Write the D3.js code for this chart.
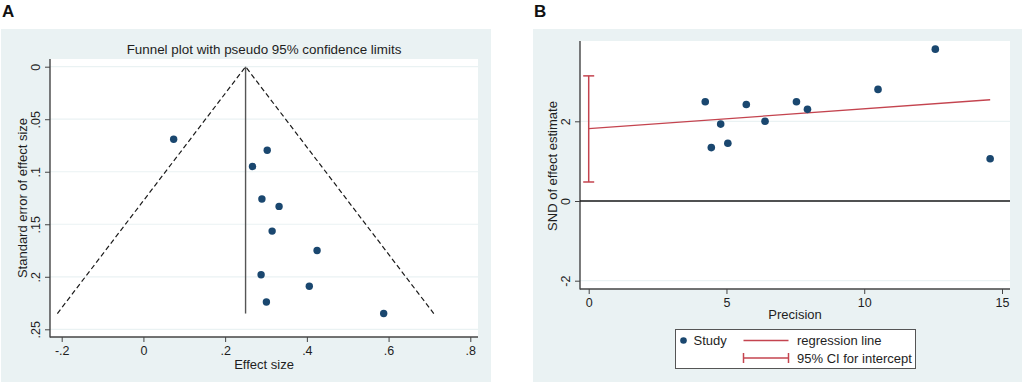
<!DOCTYPE html>
<html>
<head>
<meta charset="utf-8">
<script src="https://cdn.jsdelivr.net/npm/d3@7"></script>
<style>
  body { margin: 0; background: #fff; }
  svg { display: block; font-family: "Liberation Sans", Arial, sans-serif; }
</style>
</head>
<body>
<div id="chart"></div>
<script>
// ---- panel A : funnel plot ----
const effectSize = [0.074, 0.303, 0.267, 0.290, 0.332, 0.315, 0.425, 0.288, 0.406, 0.301, 0.588]
const seEffect   = [0.069, 0.0795, 0.095, 0.126, 0.133, 0.1565, 0.175, 0.198, 0.209, 0.224, 0.235]
const pooledEffect = 0.25
const maxSE = 0.235
const funnelXTicks = [-0.2, 0, 0.2, 0.4, 0.6, 0.8]
const funnelYTicks = [0, 0.05, 0.1, 0.15, 0.2, 0.25]

// ---- panel B : Egger regression ----
const precision = [4.23, 4.45, 4.79, 5.05, 5.72, 6.40, 7.54, 7.94, 10.50, 12.58, 14.57]
const sndEffect = [2.49, 1.34, 1.93, 1.45, 2.42, 2.00, 2.49, 2.30, 2.80, 3.81, 1.06]
const regIntercept = 1.815
const regSlope = 0.0498
const interceptCI = [0.477, 3.14]
const eggerXTicks = [0, 5, 10, 15]
const eggerYTicks = [-2, 0, 2]

const W = 1024, H = 384
const bgCol = '#eaf2f3'
const navy = '#1a476f'
const red = '#c4444f'
const axisCol = '#444'
const txtCol = '#1e1e1e'
const tickFont = 12.5
const titleFont = 13

// stata style labels: ".05", "-.2"
const stataFmt = v => String(+v.toFixed(4)).replace(/^(-?)0\./, '$1.')

const svg = d3.select('#chart').append('svg')
  .attr('width', W).attr('height', H)

function panelLetter(x, letter){
  svg.append('text')
    .attr('x', x).attr('y', 17)
    .attr('font-size', 17).attr('font-weight', 'bold')
    .attr('fill', '#111')
    .text(letter)
}

// draws background, plot region, gridlines, axes; returns group
function drawFrame(o){
  const g = svg.append('g')
  g.append('rect').attr('x', o.bg[0]).attr('y', o.bg[1]).attr('width', o.bg[2]).attr('height', o.bg[3]).attr('fill', bgCol)
  g.append('rect').attr('x', o.plot[0]).attr('y', o.plot[1]).attr('width', o.plot[2]).attr('height', o.plot[3]).attr('fill', '#fff')

  const left = o.plot[0], top = o.plot[1], right = o.plot[0] + o.plot[2], bottom = o.plot[1] + o.plot[3]

  // gridlines
  g.append('g').selectAll('line')
    .data(o.yTicks)
    .enter()
    .append('line')
    .attr('x1', left).attr('x2', right)
    .attr('y1', d => o.y(d)).attr('y2', d => o.y(d))
    .attr('stroke', bgCol).attr('stroke-width', 1.2)

  // y axis
  const yAxis = g.append('g')
    .attr('transform', `translate(${left},0)`)
    .call(d3.axisLeft(o.y).tickValues(o.yTicks).tickFormat(stataFmt).tickSize(5).tickSizeOuter(0))
  yAxis.select('.domain').remove()
  yAxis.selectAll('line').attr('stroke', axisCol)
  yAxis.selectAll('.tick text')
    .attr('x', null).attr('y', null).attr('dy', null)
    .attr('transform', 'translate(-10,0) rotate(-90)')
    .attr('text-anchor', 'middle')
    .attr('font-size', tickFont).attr('fill', txtCol)
    .attr('font-family', '"Liberation Sans", Arial, sans-serif')

  // x axis
  const xAxis = g.append('g')
    .attr('transform', `translate(0,${bottom})`)
    .call(d3.axisBottom(o.x).tickValues(o.xTicks).tickFormat(stataFmt).tickSize(5).tickSizeOuter(0).tickPadding(4))
  xAxis.select('.domain').remove()
  xAxis.selectAll('line').attr('stroke', axisCol)
  xAxis.selectAll('text').attr('font-size', tickFont).attr('fill', txtCol)
    .attr('font-family', '"Liberation Sans", Arial, sans-serif')

  // axis lines spanning the plot region
  g.append('line').attr('x1', left).attr('x2', left).attr('y1', top).attr('y2', bottom + 0.5)
    .attr('stroke', axisCol).attr('stroke-width', 1.4)
  g.append('line').attr('x1', left).attr('x2', right).attr('y1', bottom).attr('y2', bottom)
    .attr('stroke', axisCol).attr('stroke-width', 1.4)

  // axis titles
  g.append('text')
    .attr('x', (left + right) / 2 + (o.xTitleShift || 0)).attr('y', o.xTitleY)
    .attr('text-anchor', 'middle').attr('font-size', titleFont).attr('fill', txtCol)
    .text(o.xTitle)
  g.append('text')
    .attr('transform', `translate(${o.yTitleX},${o.yTitleCY}) rotate(-90)`)
    .attr('text-anchor', 'middle').attr('font-size', titleFont).attr('fill', txtCol)
    .text(o.yTitle)
  return g
}

// ================= Panel A =================
panelLetter(2, 'A')
const xA = d3.scaleLinear().domain([-0.2, 0.8]).range([61.7, 470.3])
const yA = d3.scaleLinear().domain([0, 0.25]).range([66.7, 329.3])

const gA = drawFrame({
  bg: [1, 29, 490, 353], plot: [50, 59, 428, 278],
  x: xA, y: yA, xTicks: funnelXTicks, yTicks: funnelYTicks,
  xTitle: 'Effect size', xTitleY: 369, xTitleShift: 0,
  yTitle: 'Standard error of effect size', yTitleX: 27, yTitleCY: 198
})

gA.append('text')
  .attr('x', 264).attr('y', 54)
  .attr('text-anchor', 'middle').attr('font-size', 13.4).attr('fill', txtCol)
  .text('Funnel plot with pseudo 95% confidence limits')

// pseudo 95% limits
const funnelPts = [
  [pooledEffect - 1.96 * maxSE, maxSE],
  [pooledEffect, 0],
  [pooledEffect + 1.96 * maxSE, maxSE]
]
gA.append('path')
  .datum(funnelPts)
  .attr('d', d3.line().x(d => xA(d[0])).y(d => yA(d[1])))
  .attr('fill', 'none').attr('stroke', '#1a1a1a').attr('stroke-width', 1.2)
  .attr('stroke-dasharray', '5,3')

gA.append('line')
  .attr('x1', xA(pooledEffect)).attr('x2', xA(pooledEffect))
  .attr('y1', yA(0)).attr('y2', yA(maxSE))
  .attr('stroke', '#555').attr('stroke-width', 1.4)

gA.append('g').selectAll('circle')
  .data(effectSize.map((e, i) => ({ e, se: seEffect[i] })))
  .enter()
  .append('circle')
  .attr('cx', d => xA(d.e)).attr('cy', d => yA(d.se))
  .attr('r', 3.7).attr('fill', navy)

// ================= Panel B =================
panelLetter(534, 'B')
const xB = d3.scaleLinear().domain([0, 15]).range([588.7, 1002])
const yB = d3.scaleLinear().domain([-2, 2]).range([280.7, 121.3])

const gB = drawFrame({
  bg: [533, 29, 489, 353], plot: [580, 41, 430, 248],
  x: xB, y: yB, xTicks: eggerXTicks, yTicks: eggerYTicks,
  xTitle: 'Precision', xTitleY: 319, xTitleShift: 0,
  yTitle: 'SND of effect estimate', yTitleX: 557, yTitleCY: 166
})

// zero line
gB.append('line')
  .attr('x1', 580).attr('x2', 1010)
  .attr('y1', yB(0)).attr('y2', yB(0))
  .attr('stroke', '#1a1a1a').attr('stroke-width', 1.5)

// regression line
const maxPrec = d3.max(precision)
gB.append('line')
  .attr('x1', xB(0)).attr('x2', xB(maxPrec))
  .attr('y1', yB(regIntercept)).attr('y2', yB(regIntercept + regSlope * maxPrec))
  .attr('stroke', red).attr('stroke-width', 1.3)

// CI for intercept
function ciBar(g, cx, y1, y2, cap){
  g.append('line').attr('x1', cx).attr('x2', cx).attr('y1', y1).attr('y2', y2)
    .attr('stroke', red).attr('stroke-width', 1.5)
  ;[y1, y2].forEach(y => {
    g.append('line').attr('x1', cx - cap).attr('x2', cx + cap).attr('y1', y).attr('y2', y)
      .attr('stroke', red).attr('stroke-width', 1.5)
  })
}
ciBar(gB, xB(0), yB(interceptCI[0]), yB(interceptCI[1]), 5.5)

gB.append('g').selectAll('circle')
  .data(precision.map((p, i) => ({ p, s: sndEffect[i] })))
  .enter()
  .append('circle')
  .attr('cx', d => xB(d.p)).attr('cy', d => yB(d.s))
  .attr('r', 3.8).attr('fill', navy)

// legend
const lg = svg.append('g').attr('transform', 'translate(675.5,329.5)')
lg.append('rect').attr('width', 240).attr('height', 39)
  .attr('fill', '#fff').attr('stroke', '#555').attr('stroke-width', 1)
lg.append('circle').attr('cx', 8).attr('cy', 11).attr('r', 3.3).attr('fill', navy)
lg.append('text').attr('x', 18).attr('y', 15.5).attr('font-size', titleFont).attr('fill', txtCol).text('Study')
lg.append('line').attr('x1', 68).attr('x2', 113).attr('y1', 11).attr('y2', 11)
  .attr('stroke', red).attr('stroke-width', 1.3)
lg.append('text').attr('x', 121.5).attr('y', 15.5).attr('font-size', titleFont).attr('fill', txtCol).text('regression line')
// CI legend symbol: horizontal bar with end caps
lg.append('line').attr('x1', 68).attr('x2', 113).attr('y1', 28.5).attr('y2', 28.5)
  .attr('stroke', red).attr('stroke-width', 1.5)
;[68, 113].forEach(x => {
  lg.append('line').attr('x1', x).attr('x2', x).attr('y1', 23.5).attr('y2', 33.5)
    .attr('stroke', red).attr('stroke-width', 1.5)
})
lg.append('text').attr('x', 121.5).attr('y', 33).attr('font-size', titleFont).attr('fill', txtCol).text('95% CI for intercept')
</script>
</body>
</html>
